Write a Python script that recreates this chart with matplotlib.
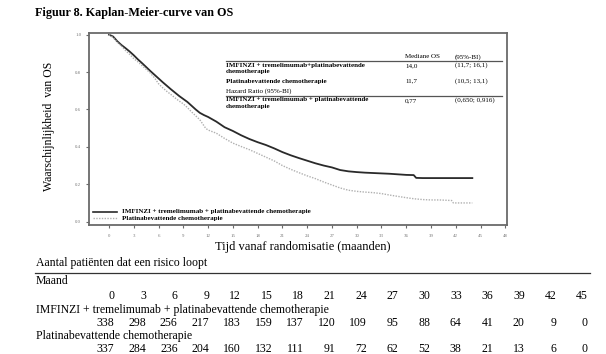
import matplotlib
matplotlib.use("Agg")
import matplotlib.pyplot as plt
from matplotlib.lines import Line2D

W, H = 606, 354

# ---- data ----
t_imf = [0, 0.5, 1, 1.5, 2, 2.5, 3, 3.5, 4, 4.5, 5, 5.5, 6, 6.5, 7, 7.5, 8, 8.5, 9,
         9.5, 10, 10.5, 11, 11.5, 12, 13, 14, 15, 16, 17, 18, 19, 20, 21, 22, 23,
         24, 25, 26, 27, 28, 29, 30, 31, 32, 33, 34, 35, 36, 36.9, 37.2, 38, 40, 42, 44]
s_imf = [1.0, 0.99, 0.965, 0.945, 0.928, 0.91, 0.89, 0.868, 0.848, 0.827, 0.806,
         0.786, 0.766, 0.746, 0.727, 0.708, 0.69, 0.672, 0.656, 0.64, 0.62, 0.6,
         0.582, 0.57, 0.56, 0.535, 0.505, 0.485, 0.462, 0.442, 0.425, 0.41, 0.392,
         0.372, 0.355, 0.34, 0.326, 0.312, 0.3, 0.29, 0.276, 0.269, 0.265, 0.262,
         0.26, 0.258, 0.256, 0.253, 0.25, 0.249, 0.234, 0.233, 0.233, 0.233, 0.233]

t_chemo = [0, 0.5, 1, 1.5, 2, 2.5, 3, 3.5, 4, 4.5, 5, 5.5, 6, 6.5, 7, 7.5, 8, 8.5,
           9, 9.5, 10, 10.5, 11, 11.7, 12, 13, 14, 15, 16, 17, 18, 19, 20, 21, 22,
           23, 24, 25, 26, 27, 28, 29, 30, 31, 32, 33, 34, 35, 36, 37, 38, 39, 40,
           41, 41.5, 41.7, 44]
s_chemo = [1.0, 0.985, 0.96, 0.94, 0.915, 0.895, 0.872, 0.855, 0.835, 0.815, 0.795,
           0.77, 0.738, 0.716, 0.697, 0.68, 0.662, 0.645, 0.63, 0.61, 0.587, 0.566,
           0.545, 0.5, 0.49, 0.473, 0.445, 0.42, 0.402, 0.385, 0.365, 0.345, 0.325,
           0.3, 0.28, 0.262, 0.245, 0.23, 0.212, 0.196, 0.18, 0.168, 0.162, 0.158,
           0.155, 0.15, 0.142, 0.135, 0.128, 0.122, 0.118, 0.116, 0.116, 0.114,
           0.113, 0.10, 0.10]

xticks = list(range(0, 49, 3))
yticks = [0.0, 0.2, 0.4, 0.6, 0.8, 1.0]

legend_labels = ["IMFINZI + tremelimumab + platinabevattende chemotherapie",
                 "Platinabevattende chemotherapie"]

tbl_header = ["Mediane OS", "(95%-BI)"]
tbl_rows = [("IMFINZI + tremelimumab+platinabevattende\nchemotherapie", "14,0", "(11,7; 16,1)"),
            ("Platinabevattende chemotherapie", "11,7", "(10,5; 13,1)")]
hr_label = "Hazard Ratio (95%-BI)"
hr_row = ("IMFINZI + tremelimumab + platinabevattende\nchemotherapie", "0,77", "(0,650; 0,916)")

risk_months = [0, 3, 6, 9, 12, 15, 18, 21, 24, 27, 30, 33, 36, 39, 42, 45]
risk_imf = [338, 298, 256, 217, 183, 159, 137, 120, 109, 95, 88, 64, 41, 20, 9, 0]
risk_chemo = [337, 284, 236, 204, 160, 132, 111, 91, 72, 62, 52, 38, 21, 13, 6, 0]

SERIF = ["Liberation Serif", "DejaVu Serif"]
plt.rcParams["font.family"] = SERIF

fig = plt.figure(figsize=(W / 100, H / 100), dpi=100)


def fx(x):
    return x / W


def fy(y):
    return 1 - y / H


# axes box in pixels
L, R, T, B = 89, 507, 33, 225
ax = fig.add_axes([fx(L), fy(B), fx(R) - fx(L), fy(T) - fy(B)])
ax.set_xlim(-2.42, 48.2)
ax.set_ylim(-0.018, 1.009)

ax.plot(t_imf, s_imf, color="#2a2a2a", lw=1.3)
ax.plot(t_chemo, s_chemo, color="#b0b0b0", lw=1.0, ls=(0, (1, 1)))

for sp in ax.spines.values():
    sp.set_color("#6a6a6a")
    sp.set_linewidth(1.3)

ax.set_xticks(xticks)
ax.set_yticks(yticks)
ax.set_xticklabels([str(v) for v in xticks])
ax.set_yticklabels([f"{v:.1f}" for v in yticks])
ax.tick_params(axis="both", direction="out", length=2.5, width=0.8, color="#6a6a6a",
               labelsize=3.5, labelcolor="#777777", pad=3)
ax.tick_params(axis="x", pad=4)

# legend (inside, lower left)
fig.add_artist(Line2D([fx(93), fx(117)], [fy(211.5)] * 2, color="#2a2a2a", lw=1.2))
fig.add_artist(Line2D([fx(93), fx(117)], [fy(218.5)] * 2, color="#b0b0b0", lw=1.0,
                      ls=(0, (1, 1))))
fig.text(fx(122), fy(211.5), legend_labels[0], fontsize=5.0, fontweight="bold",
         va="center", ha="left")
fig.text(fx(122), fy(218.5), legend_labels[1], fontsize=5.0, fontweight="bold",
         va="center", ha="left")

# table inside plot
c0, c1, c2 = 226, 405, 455
tfs = 5.0
fig.text(fx(c1), fy(57), tbl_header[0], fontsize=tfs, va="center")
fig.text(fx(c2), fy(57), tbl_header[1], fontsize=tfs, va="center")
fig.add_artist(Line2D([fx(c0), fx(502)], [fy(61)] * 2, color="#555555", lw=0.9))
fig.text(fx(c0), fy(62.5), tbl_rows[0][0], fontsize=tfs, fontweight="bold", va="top",
         linespacing=1.45)
fig.text(fx(c1), fy(65.5), tbl_rows[0][1], fontsize=tfs, va="center")
fig.text(fx(c2), fy(65.5), tbl_rows[0][2], fontsize=tfs, va="center")
fig.text(fx(c0), fy(81), tbl_rows[1][0], fontsize=tfs, fontweight="bold", va="center")
fig.text(fx(c1), fy(81), tbl_rows[1][1], fontsize=tfs, va="center")
fig.text(fx(c2), fy(81), tbl_rows[1][2], fontsize=tfs, va="center")
fig.text(fx(c0), fy(91), hr_label, fontsize=tfs, va="center")
fig.add_artist(Line2D([fx(c0), fx(502)], [fy(96)] * 2, color="#555555", lw=0.9))
fig.text(fx(c0), fy(97.5), hr_row[0], fontsize=tfs, fontweight="bold", va="top",
         linespacing=1.45)
fig.text(fx(c1), fy(100.5), hr_row[1], fontsize=tfs, va="center")
fig.text(fx(c2), fy(100.5), hr_row[2], fontsize=tfs, va="center")

# titles / labels
fig.text(fx(35), fy(13), "Figuur 8. Kaplan-Meier-curve van OS", fontsize=8.7,
         fontweight="bold", va="center", ha="left")
fig.text(fx(49), fy(126), "Waarschijnlijkheid  van OS", fontsize=8.5, rotation=90,
         va="center", ha="center")
fig.text(fx(303), fy(247), "Tijd vanaf randomisatie (maanden)", fontsize=9,
         va="center", ha="center")

# risk table
rfs = 8.5
fig.text(fx(36), fy(263), "Aantal patiënten dat een risico loopt", fontsize=rfs,
         va="center")
fig.add_artist(Line2D([fx(35), fx(590)], [fy(272.5)] * 2, color="#333333", lw=0.9))
fig.text(fx(36), fy(281), "Maand", fontsize=rfs, va="center")
fig.text(fx(36), fy(310), legend_labels[0], fontsize=rfs, va="center")
fig.text(fx(36), fy(336), legend_labels[1], fontsize=rfs, va="center")
x_first, x_last = 114.5, 588
step = (x_last - x_first) / (len(risk_months) - 1)
for i, (m, a, b) in enumerate(zip(risk_months, risk_imf, risk_chemo)):
    xr = x_first + i * step
    fig.text(fx(xr), fy(296), str(m), fontsize=rfs, va="center", ha="right")
    fig.text(fx(xr), fy(323), str(a), fontsize=rfs, va="center", ha="right")
    fig.text(fx(xr), fy(349), str(b), fontsize=rfs, va="center", ha="right")

fig.savefig("out.png", dpi=100)
